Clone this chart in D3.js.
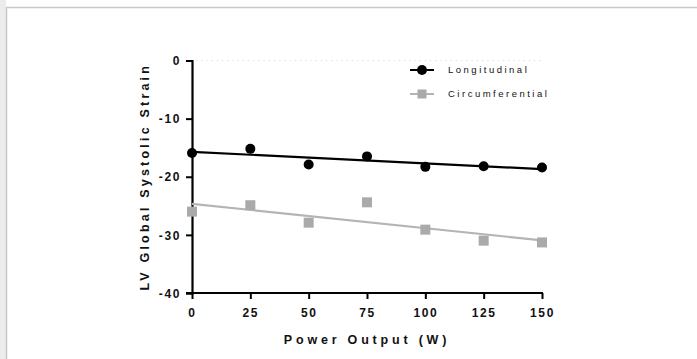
<!DOCTYPE html>
<html>
<head>
<meta charset="utf-8">
<script src="https://cdn.jsdelivr.net/npm/d3@7"></script>
<style>
  body { margin: 0; background: #fff; }
  svg text { font-family: "Liberation Sans", Arial, sans-serif; }
</style>
</head>
<body>
<div id="chart"></div>
<script>
// data
const power = [0, 25, 50, 75, 100, 125, 150];
const longitudinal = [-15.9, -15.2, -17.9, -16.5, -18.3, -18.2, -18.4];
const circumferential = [-26.0, -24.9, -27.9, -24.4, -29.1, -31.0, -31.3];
const xTicks = [0, 25, 50, 75, 100, 125, 150];
const yTicks = [0, -10, -20, -30, -40];

const width = 697, height = 359;
const svg = d3.select('#chart').append('svg')
    .attr('width', width)
    .attr('height', height);

// frame
svg.append('rect').attr('x', 0).attr('y', 0).attr('width', 6).attr('height', height).attr('fill', '#ececec');
svg.append('line').attr('x1', 6.5).attr('x2', 6.5).attr('y1', 7).attr('y2', height).attr('stroke', '#c8c8c8').attr('stroke-width', 1.5);
svg.append('line').attr('x1', 6).attr('x2', width).attr('y1', 7.5).attr('y2', 7.5).attr('stroke', '#c8c8c8').attr('stroke-width', 1.5);

let x = d3.scaleLinear().domain([0, 150]).range([192, 542]);
let y = d3.scaleLinear().domain([-40, 0]).range([293, 60.5]);

// dotted zero line
svg.append('line')
    .attr('x1', x(0) + 4).attr('x2', x(150))
    .attr('y1', y(0)).attr('y2', y(0))
    .attr('stroke', '#d8d8d8').attr('stroke-width', 1.2)
    .attr('stroke-dasharray', '1.2,4');

// axes
const xAxis = svg.append('g')
    .attr('transform', `translate(0,${y(-40)})`)
    .call(d3.axisBottom(x).tickValues(xTicks).tickSize(6).tickPadding(9).tickFormat(d3.format('d')));
const yAxis = svg.append('g')
    .attr('transform', `translate(${x(0)},0)`)
    .call(d3.axisLeft(y).tickValues(yTicks).tickSize(6).tickPadding(5).tickFormat(d => d));

[xAxis, yAxis].forEach(g => {
    g.select('.domain').attr('stroke', '#000').attr('stroke-width', 2.2);
    g.selectAll('.tick line').attr('stroke', '#000').attr('stroke-width', 2);
    g.selectAll('.tick text')
        .attr('fill', '#111')
        .style('font-size', '12px')
        .style('font-weight', 'bold')
        .style('letter-spacing', '1.6px');
});
xAxis.select('.domain').attr('d', `M${x(0) - 6},0H${x(150) + 1}`);
yAxis.selectAll('.tick text').attr('dy', '0.35em');

// regression (least squares) for each series
function fit(xs, ys) {
    const mx = d3.mean(xs), my = d3.mean(ys);
    const b = d3.sum(xs, (v, i) => (v - mx) * (ys[i] - my)) / d3.sum(xs, v => (v - mx) ** 2);
    return [mx, my, b];
}

const series = [
    { name: 'Longitudinal', values: longitudinal, color: '#000', line: '#000', shape: 'circle' },
    { name: 'Circumferential', values: circumferential, color: '#aaaaaa', line: '#b4b4b4', shape: 'square' }
];

series.forEach(s => {
    const [mx, my, b] = fit(power, s.values);
    const f = v => my + b * (v - mx);
    svg.append('line')
        .attr('x1', x(0)).attr('x2', x(150))
        .attr('y1', y(f(0))).attr('y2', y(f(150)))
        .attr('stroke', s.line).attr('stroke-width', 2.2);

    const g = svg.append('g');
    if (s.shape === 'circle') {
        g.selectAll('circle').data(power).enter().append('circle')
            .attr('cx', d => x(d))
            .attr('cy', (d, i) => y(s.values[i]))
            .attr('r', 5)
            .attr('fill', s.color);
    } else {
        g.selectAll('rect').data(power).enter().append('rect')
            .attr('x', d => x(d) - 5)
            .attr('y', (d, i) => y(s.values[i]) - 5)
            .attr('width', 10).attr('height', 10)
            .attr('fill', s.color);
    }
});

// legend
const legend = svg.append('g');
series.forEach((s, i) => {
    const ly = 70 + i * 24;
    legend.append('line')
        .attr('x1', 410).attr('x2', 434).attr('y1', ly).attr('y2', ly)
        .attr('stroke', s.line).attr('stroke-width', 2);
    if (s.shape === 'circle') {
        legend.append('circle').attr('cx', 422).attr('cy', ly).attr('r', 5).attr('fill', s.color);
    } else {
        legend.append('rect').attr('x', 417.5).attr('y', ly - 4.5).attr('width', 9).attr('height', 9).attr('fill', s.color);
    }
    legend.append('text')
        .attr('x', 448).attr('y', ly).attr('dy', '0.35em')
        .style('font-size', '9.5px')
        .style('letter-spacing', '2.5px')
        .attr('fill', '#111')
        .text(s.name);
});

// axis titles
svg.append('text')
    .attr('x', (x(0) + x(150)) / 2).attr('y', 344)
    .attr('text-anchor', 'middle')
    .style('font-size', '12.5px').style('font-weight', 'bold').style('letter-spacing', '3.8px')
    .attr('fill', '#111')
    .text('Power Output (W)');

svg.append('text')
    .attr('transform', `translate(149,${(y(0) + y(-40)) / 2}) rotate(-90)`)
    .attr('text-anchor', 'middle')
    .style('font-size', '12.5px').style('font-weight', 'bold').style('letter-spacing', '3.2px')
    .attr('fill', '#111')
    .text('LV Global Systolic Strain');
</script>
</body>
</html>
